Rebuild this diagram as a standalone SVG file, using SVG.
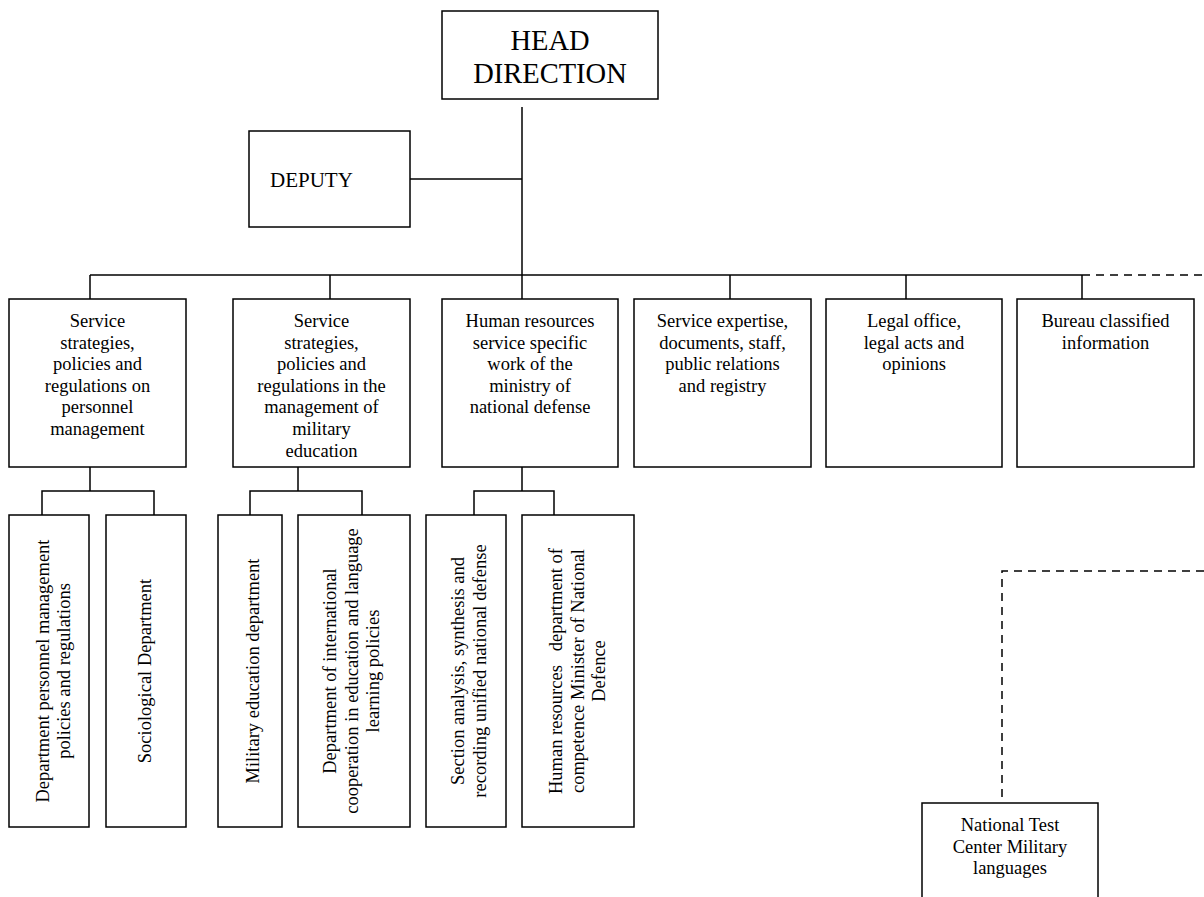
<svg xmlns="http://www.w3.org/2000/svg" width="1204" height="897" viewBox="0 0 1204 897">
<style>
.box{fill:#fff;stroke:#000;stroke-width:1.5}
.ln{fill:none;stroke:#000;stroke-width:1.5}
.dash{fill:none;stroke:#000;stroke-width:1.5;stroke-dasharray:8 6}
text{font-family:"Liberation Serif","Times New Roman",serif;fill:#000}
.t{font-size:18.5px;text-anchor:middle}
.v{font-size:18.5px;text-anchor:middle;white-space:pre}
</style>
<rect width="1204" height="897" fill="#fff"/>
<g id="connectors">
<line class="ln" x1="522" y1="107" x2="522" y2="275"/>
<line class="ln" x1="410" y1="179" x2="522" y2="179"/>
<line class="ln" x1="90" y1="275" x2="1082" y2="275"/>
<line class="dash" x1="1082" y1="275" x2="1204" y2="275"/>
<line class="ln" x1="90" y1="275" x2="90" y2="299"/>
<line class="ln" x1="330" y1="275" x2="330" y2="299"/>
<line class="ln" x1="522" y1="275" x2="522" y2="299"/>
<line class="ln" x1="730" y1="275" x2="730" y2="299"/>
<line class="ln" x1="906" y1="275" x2="906" y2="299"/>
<line class="ln" x1="1082" y1="275" x2="1082" y2="299"/>
<path class="ln" d="M90 467V491M42 515V491H154V515"/>
<path class="ln" d="M298 467V491M250 515V491H362V515"/>
<path class="ln" d="M522 467V491M474 515V491H554V515"/>
<path class="dash" d="M1204 571H1002V803"/>
</g>
<g id="head"><rect class="box" x="442" y="11" width="216" height="88"/>
<text x="550" y="50" style="font-size:28.5px;text-anchor:middle">HEAD</text>
<text x="550" y="83" style="font-size:28.5px;text-anchor:middle">DIRECTION</text></g>
<g id="deputy"><rect class="box" x="249" y="131" width="161" height="96"/>
<text x="270" y="187" style="font-size:21px">DEPUTY</text></g>
<g id="s1"><rect class="box" x="9" y="299" width="177" height="168"/>
<text class="t" x="97.5" y="327">Service</text><text class="t" x="97.5" y="348.6">strategies,</text><text class="t" x="97.5" y="370.2">policies and</text><text class="t" x="97.5" y="391.8">regulations on</text><text class="t" x="97.5" y="413.4">personnel</text><text class="t" x="97.5" y="435">management</text></g>
<g id="s2"><rect class="box" x="233" y="299" width="177" height="168"/>
<text class="t" x="321.5" y="327">Service</text><text class="t" x="321.5" y="348.6">strategies,</text><text class="t" x="321.5" y="370.2">policies and</text><text class="t" x="321.5" y="391.8">regulations in the</text><text class="t" x="321.5" y="413.4">management of</text><text class="t" x="321.5" y="435">military</text><text class="t" x="321.5" y="456.6">education</text></g>
<g id="s3"><rect class="box" x="442" y="299" width="176" height="168"/>
<text class="t" x="530" y="327">Human resources</text><text class="t" x="530" y="348.6">service specific</text><text class="t" x="530" y="370.2">work of the</text><text class="t" x="530" y="391.8">ministry of</text><text class="t" x="530" y="413.4">national defense</text></g>
<g id="s4"><rect class="box" x="634" y="299" width="177" height="168"/>
<text class="t" x="722.5" y="327">Service expertise,</text><text class="t" x="722.5" y="348.6">documents, staff,</text><text class="t" x="722.5" y="370.2">public relations</text><text class="t" x="722.5" y="391.8">and registry</text></g>
<g id="s5"><rect class="box" x="826" y="299" width="176" height="168"/>
<text class="t" x="914" y="327">Legal office,</text><text class="t" x="914" y="348.6">legal acts and</text><text class="t" x="914" y="370.2">opinions</text></g>
<g id="s6"><rect class="box" x="1017" y="299" width="177" height="168"/>
<text class="t" x="1105.5" y="327">Bureau classified</text><text class="t" x="1105.5" y="348.6">information</text></g>
<g id="d1"><rect class="box" x="9" y="515" width="80" height="312"/>
<text class="v" x="49" y="671" transform="rotate(-90 49 671)">Department personnel management</text>
<text class="v" x="70" y="671" transform="rotate(-90 70 671)">policies and regulations</text></g>
<g id="d2"><rect class="box" x="106" y="515" width="80" height="312"/>
<text class="v" x="151" y="671" transform="rotate(-90 151 671)">Sociological Department</text></g>
<g id="d3"><rect class="box" x="218" y="515" width="64" height="312"/>
<text class="v" x="259" y="671" transform="rotate(-90 259 671)">Military education department</text></g>
<g id="d4"><rect class="box" x="298" y="515" width="112" height="312"/>
<text class="v" x="336" y="671" transform="rotate(-90 336 671)">Department of international</text>
<text class="v" x="357.5" y="671" transform="rotate(-90 357.5 671)">cooperation in education and language</text>
<text class="v" x="379" y="671" transform="rotate(-90 379 671)">learning policies</text></g>
<g id="d5"><rect class="box" x="426" y="515" width="80" height="312"/>
<text class="v" x="464" y="671" transform="rotate(-90 464 671)">Section analysis, synthesis and</text>
<text class="v" x="486" y="671" transform="rotate(-90 486 671)">recording unified national defense</text></g>
<g id="d6"><rect class="box" x="522" y="515" width="112" height="312"/>
<text class="v" x="562" y="671" transform="rotate(-90 562 671)">Human resources   department of</text>
<text class="v" x="583.5" y="671" transform="rotate(-90 583.5 671)">competence Minister of National</text>
<text class="v" x="605" y="671" transform="rotate(-90 605 671)">Defence</text></g>
<g id="ntc"><rect class="box" x="922" y="803" width="176" height="110"/>
<text class="t" x="1010" y="831">National Test</text><text class="t" x="1010" y="852.6">Center Military</text><text class="t" x="1010" y="874.2">languages</text></g>
</svg>
